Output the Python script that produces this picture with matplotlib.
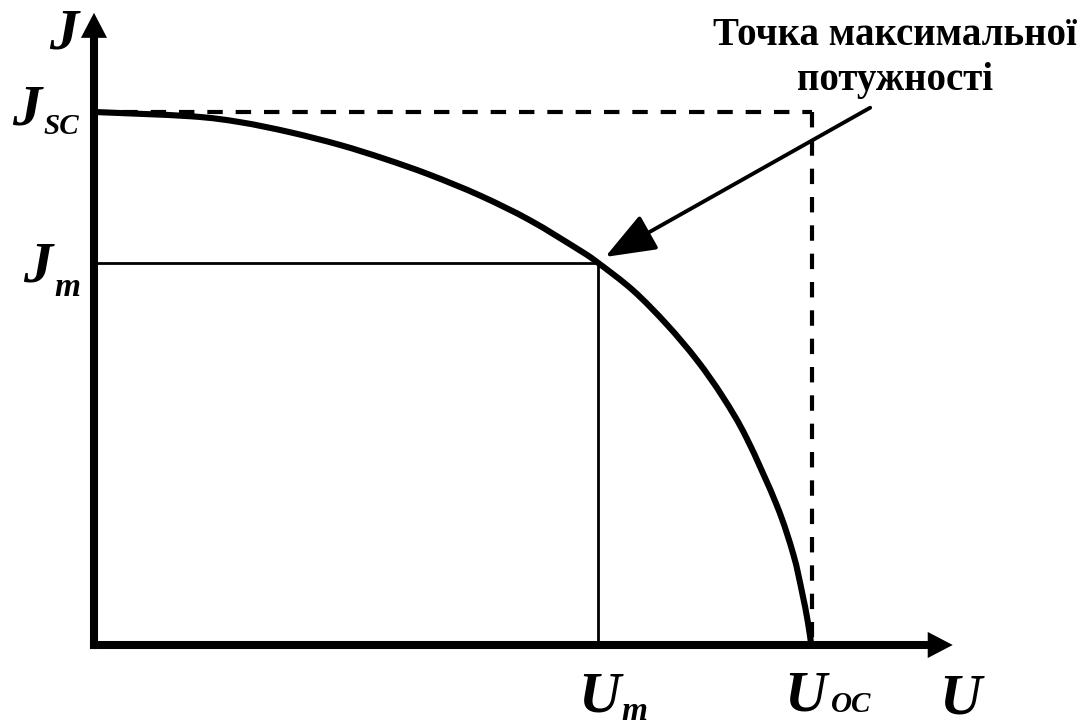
import numpy as np
import matplotlib
matplotlib.use("Agg")
import matplotlib.pyplot as plt
from matplotlib.patches import FancyArrowPatch, PathPatch
from matplotlib.path import Path

# I-V curve of a solar cell, normalised: U / U_oc and J / J_sc
u_norm = [0.0, 0.134, 0.203, 0.273, 0.343, 0.405, 0.468, 0.538, 0.607, 0.677,
          0.702, 0.751, 0.798, 0.840, 0.876, 0.909, 0.951, 0.974, 0.986, 0.994, 0.999]
j_norm = [1.0, 0.992, 0.981, 0.962, 0.938, 0.912, 0.882, 0.843, 0.797, 0.740,
          0.717, 0.665, 0.601, 0.534, 0.465, 0.388, 0.262, 0.170, 0.100, 0.045, 0.0]

u_oc, j_sc = 1.0, 1.0
u_m, j_m = 0.702, 0.717

title_lines = ["Точка максимальної", "потужності"]

fig = plt.figure(figsize=(10.89, 7.26), dpi=100)
ax = fig.add_axes([0, 0, 1, 1])
ax.set_xlim(-0.1309, 1.3858)
ax.set_ylim(-0.152, 1.2101)
ax.axis("off")

serif = "Liberation Serif"
lab = dict(family=serif, weight="bold", style="italic", color="black")

# axis shafts
ax.plot([0, 0], [0, 1.15], lw=5.8, color="black", solid_capstyle="projecting", zorder=5)
ax.plot([0, 1.16], [0, 0], lw=5.8, color="black", solid_capstyle="projecting", zorder=5)
# axis arrowheads
head = "-|>,head_length=1.8,head_width=0.94"
ax.add_patch(FancyArrowPatch((0, 1.10), (0, 1.186), arrowstyle=head, lw=0,
                             color="black", mutation_scale=10, shrinkA=0, shrinkB=0, zorder=6))
ax.add_patch(FancyArrowPatch((1.10, 0), (1.196, 0), arrowstyle=head, lw=0,
                             color="black", mutation_scale=10, shrinkA=0, shrinkB=0, zorder=6))

# dashed guides to J_sc and U_oc
dash = (0, (3.7, 3.1))
ax.plot([0, u_oc], [j_sc, j_sc], ls=dash, lw=3.0, color="black", dash_capstyle="butt")
ax.plot([u_oc, u_oc], [j_sc, 0], ls=dash, lw=3.0, color="black", dash_capstyle="butt")

# maximum power point rectangle
ax.plot([0, u_m], [j_m, j_m], lw=2.0, color="black")
ax.plot([u_m, u_m], [j_m, 0], lw=2.0, color="black")

# I-V curve as a smooth Catmull-Rom spline through the points
pts = np.column_stack([u_norm, j_norm])
verts = [pts[0]]
codes = [Path.MOVETO]
n = len(pts)
for i in range(n - 1):
    p0 = pts[i - 1] if i > 0 else pts[i]
    p1, p2 = pts[i], pts[i + 1]
    p3 = pts[i + 2] if i + 2 < n else pts[i + 1]
    verts += [p1 + (p2 - p0) / 6.0, p2 - (p3 - p1) / 6.0, p2]
    codes += [Path.CURVE4] * 3
ax.add_patch(PathPatch(Path(verts, codes), fill=False, lw=4.4, edgecolor="black",
                       capstyle="butt", zorder=4))

# labels
big, sub_sc, sub_m = 42, 21, 24
ax.text(-0.042, 1.146, "J", fontsize=big, ha="center", va="center", **lab)
ax.text(-0.094, 1.002, "J", fontsize=big, ha="center", va="center", **lab)
ax.text(-0.046, 0.972, "SC", fontsize=sub_sc, ha="center", va="center", **lab)
ax.text(-0.078, 0.709, "J", fontsize=big, ha="center", va="center", **lab)
ax.text(-0.037, 0.670, "m", fontsize=sub_m, ha="center", va="center", **lab)
ax.text(0.704, -0.098, "U", fontsize=big, ha="center", va="center", **lab)
ax.text(0.753, -0.124, "m", fontsize=sub_m, ha="center", va="center", **lab)
ax.text(0.991, -0.096, "U", fontsize=big, ha="center", va="center", **lab)
ax.text(1.054, -0.112, "OC", fontsize=sub_sc, ha="center", va="center", **lab)
ax.text(1.206, -0.103, "U", fontsize=big, ha="center", va="center", **lab)

ax.text(1.116, 1.143, title_lines[0], fontsize=28, ha="center", va="center",
        family=serif, weight="bold", color="black")
ax.text(1.116, 1.060, title_lines[1], fontsize=28, ha="center", va="center",
        family=serif, weight="bold", color="black")

ax.add_patch(FancyArrowPatch((1.081, 1.008), (u_m + 0.01, j_m + 0.011),
                             arrowstyle="-|>,head_length=2.6,head_width=1.0",
                             lw=2.8, color="black", mutation_scale=12,
                             shrinkA=0, shrinkB=0, zorder=6))

fig.savefig("out.png", dpi=100)
